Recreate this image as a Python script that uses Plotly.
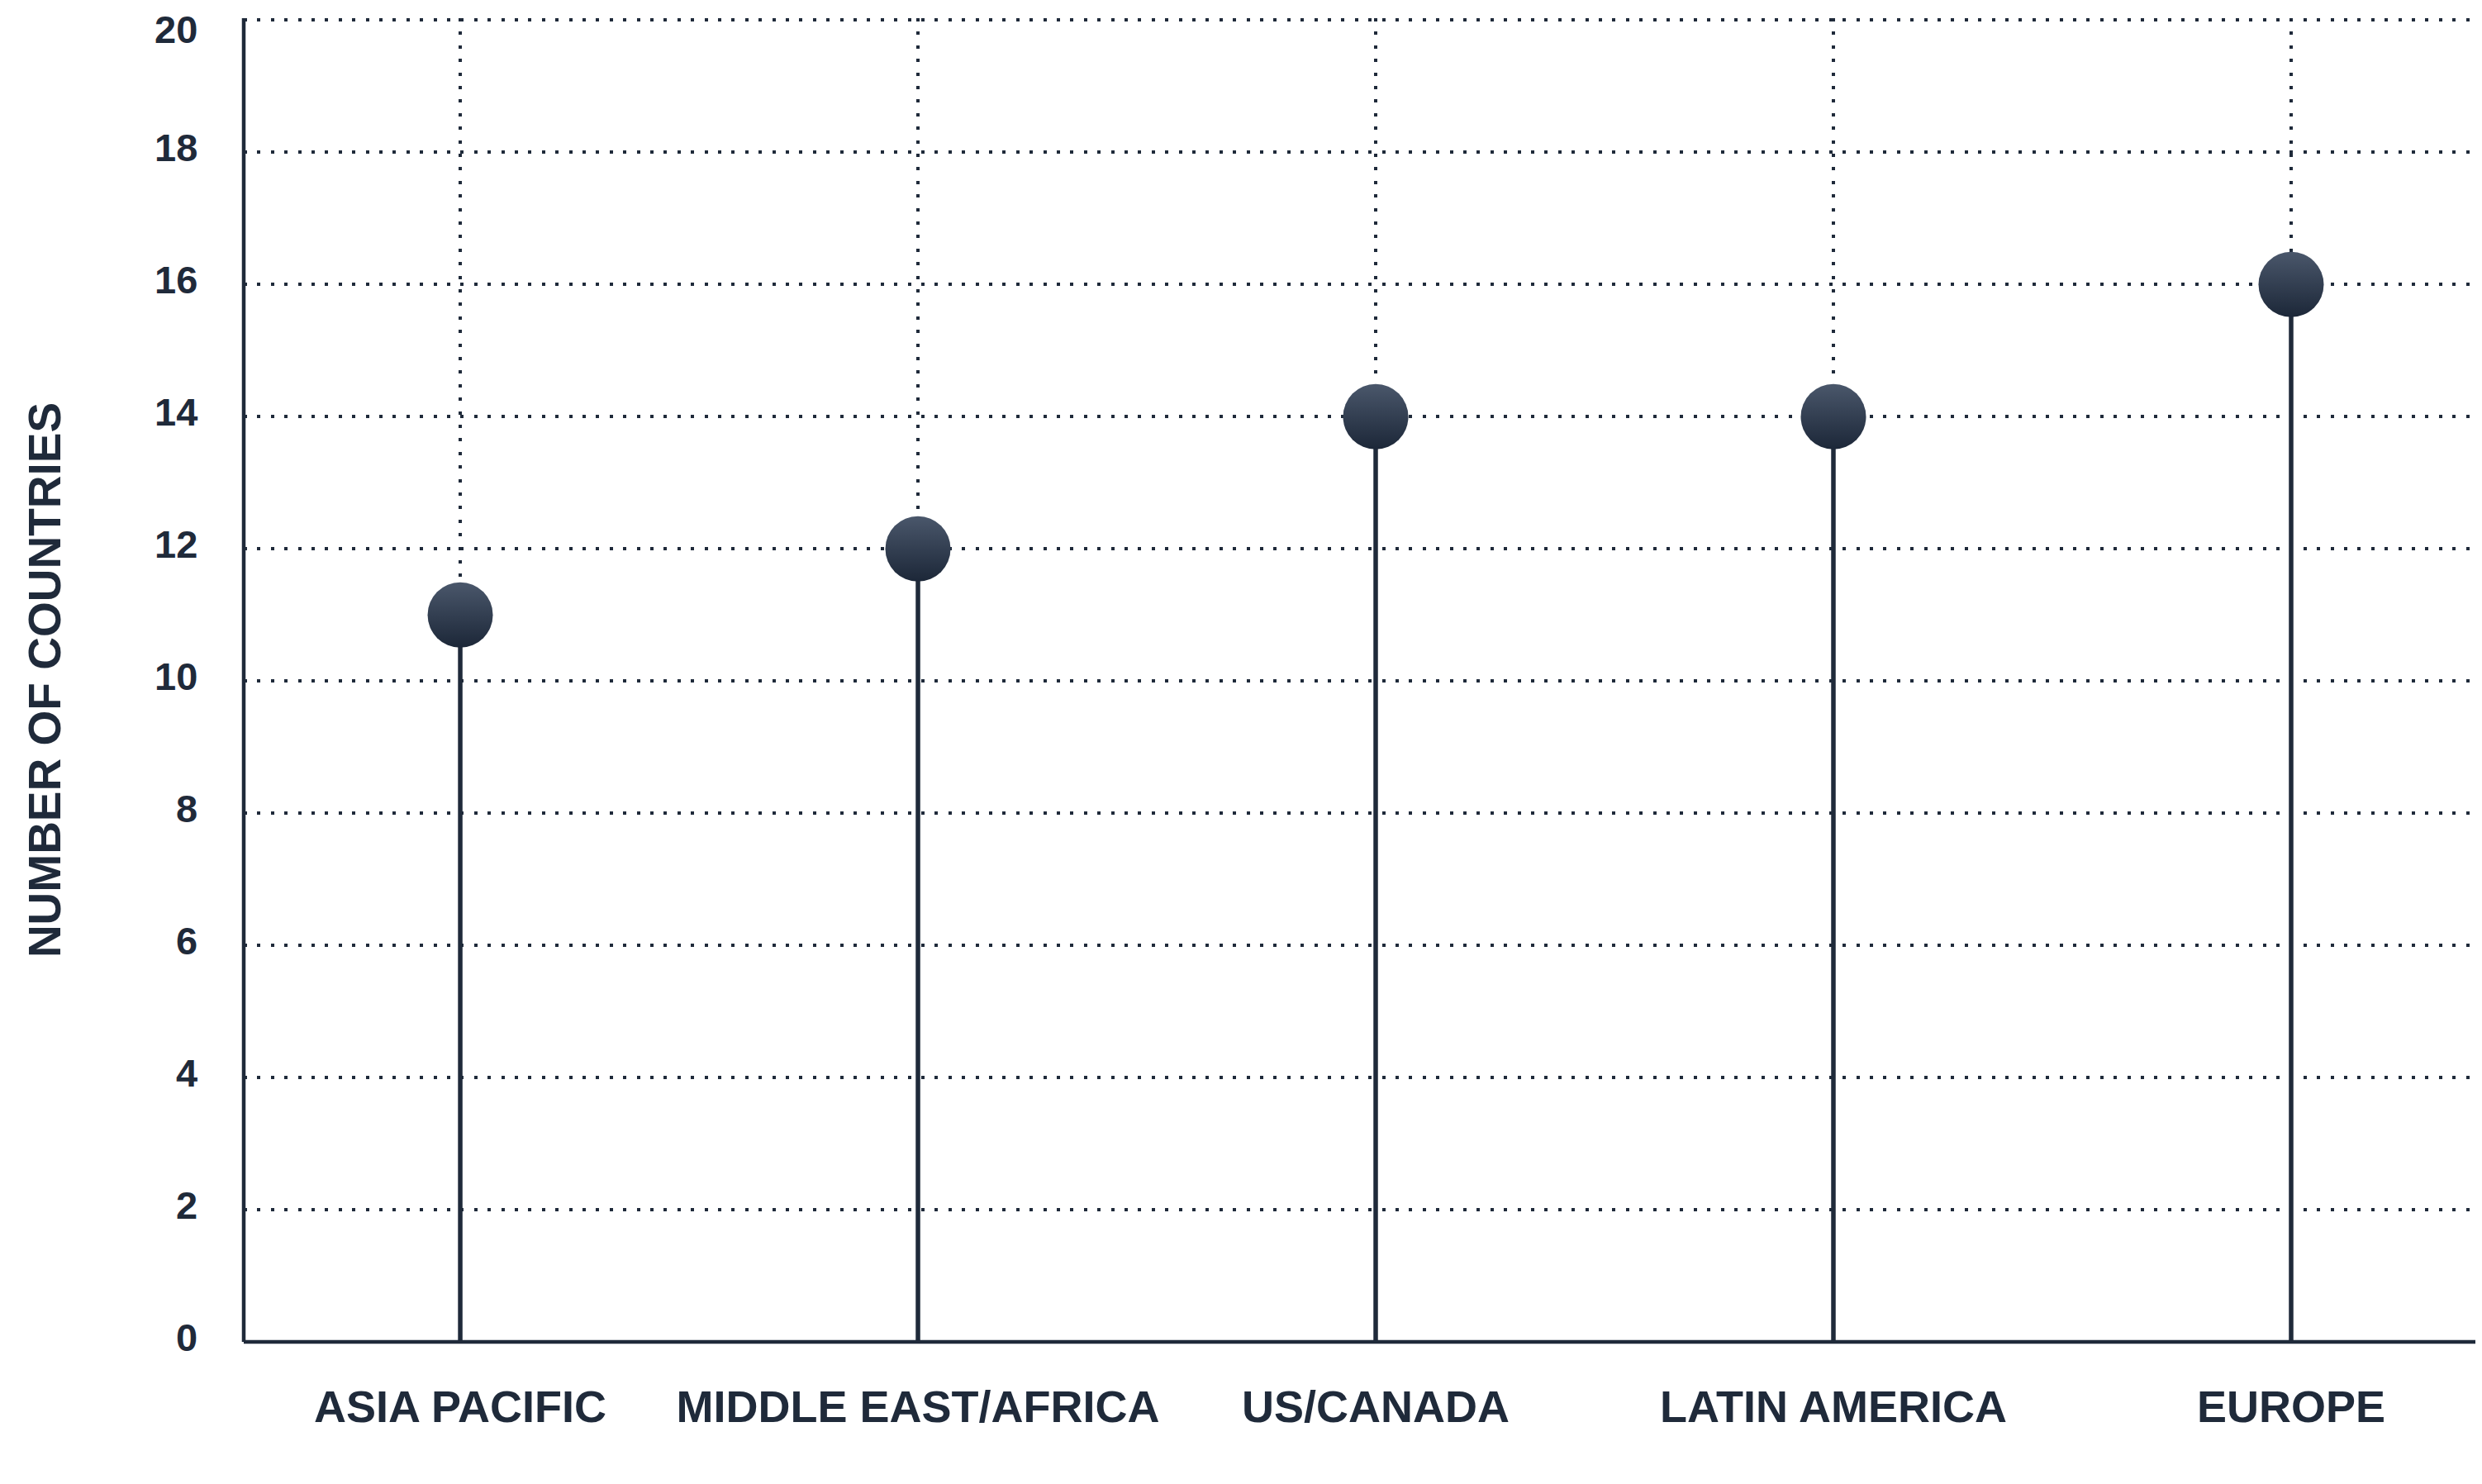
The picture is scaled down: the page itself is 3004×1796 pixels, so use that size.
import plotly.graph_objects as go

categories = ["ASIA PACIFIC", "MIDDLE EAST/AFRICA", "US/CANADA", "LATIN AMERICA", "EUROPE"]
values = [11, 12, 14, 14, 16]
y_ticks = [0, 2, 4, 6, 8, 10, 12, 14, 16, 18, 20]

INK = "#1f2a3a"
FONT = "Liberation Sans, Arial, sans-serif"

stem_x, stem_y = [], []
for c, v in zip(categories, values):
    stem_x += [c, c, None]
    stem_y += [0, v, None]

fig = go.Figure()
fig.add_trace(go.Scatter(
    x=stem_x, y=stem_y, mode="lines",
    line=dict(color=INK, width=5.5),
    hoverinfo="skip", showlegend=False, cliponaxis=False,
))
fig.add_trace(go.Scatter(
    x=categories, y=values, mode="markers",
    marker=dict(size=79, color="#4a576b",
                gradient=dict(type="vertical", color="#1c2738"),
                line=dict(width=0)),
    showlegend=False, cliponaxis=False,
))

top_tick = max(y_ticks)
annotations = []
for t in y_ticks:
    is_top = (t == top_tick)
    annotations.append(dict(
        x=0, xref="paper", y=t, yref="y", text=str(t), showarrow=False,
        xanchor="right", yanchor=("top" if is_top else "middle"), xshift=-55,
        yshift=(16 if is_top else 6), borderpad=0,
        font=dict(size=47, family=FONT, color=INK, weight="bold")))

fig.update_layout(
    width=2996, height=1788,
    margin=dict(l=287, r=0, t=14, b=172, autoexpand=False),
    paper_bgcolor="white", plot_bgcolor="white",
    font=dict(family=FONT, color=INK),
    annotations=annotations,
    xaxis=dict(
        type="category", categoryorder="array", categoryarray=categories,
        range=[-0.473, 4.417],
        showgrid=True, gridcolor=INK, gridwidth=3.5, griddash="4px,12.4px",
        showline=False, zeroline=False, ticks="",
        tickfont=dict(size=54, family=FONT, color=INK, weight="bold"),
        ticklabelstandoff=42,
    ),
    yaxis=dict(
        range=[0, 20.03], tickvals=y_ticks, showticklabels=False,
        showgrid=True, gridcolor=INK, gridwidth=3.5, griddash="4px,12.4px",
        showline=False, zeroline=False, ticks="",
        title=dict(text="NUMBER OF COUNTRIES", standoff=202,
                   font=dict(size=55, family=FONT, color=INK, weight="bold")),
    ),
    shapes=[
        dict(type="line", xref="paper", yref="paper", x0=0, x1=0, y0=0, y1=1,
             line=dict(color=INK, width=4.5), layer="above"),
        dict(type="line", xref="paper", yref="paper", x0=0, x1=1, y0=0, y1=0,
             line=dict(color=INK, width=4.5), layer="above"),
    ],
)

fig.write_html("out.html")
